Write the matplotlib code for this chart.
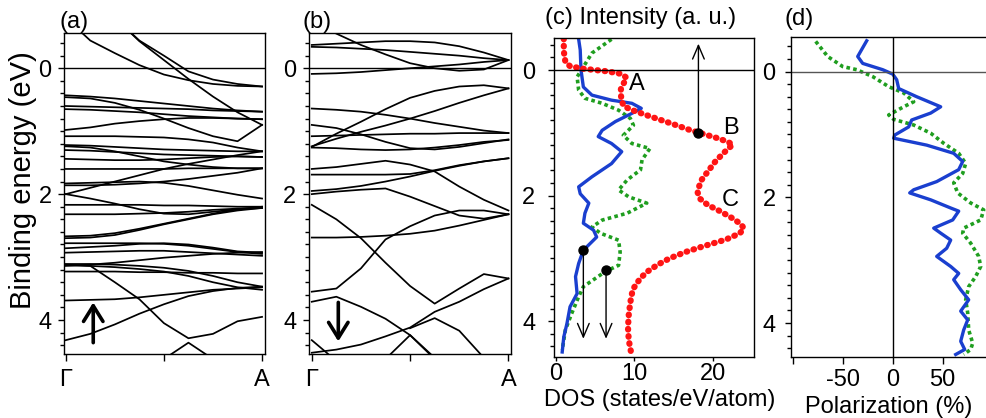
import numpy as np
import matplotlib
matplotlib.use('Agg')
import matplotlib.pyplot as plt
from matplotlib.ticker import MultipleLocator

plt.rcParams['font.family'] = ['Liberation Sans', 'DejaVu Sans']
plt.rcParams['font.size'] = 17

nan = np.nan

# k path Gamma -> A (fraction)
K = [0, 0.125, 0.25, 0.375, 0.5, 0.625, 0.75, 0.875, 1.0]

# (a) majority spin bands, binding energy (eV) at each K
bands_up = [
    [-0.80, -0.44, -0.24, -0.05, 0.10, 0.19, 0.25, 0.28, 0.29],
    [-1.40, -1.15, -0.80, -0.44, -0.20, 0.05, 0.18, 0.25, 0.29],
    [-1.50, -1.20, -0.80, -0.43, -0.13, 0.17, 0.45, 0.70, 0.90],
    [0.43, 0.45, 0.48, 0.52, 0.56, 0.60, 0.64, 0.67, 0.69],
    [0.46, 0.48, 0.55, 0.66, 0.80, 0.95, 1.08, 1.16, 0.90],
    [0.60, 0.61, 0.62, 0.63, 0.64, 0.65, 0.67, 0.68, 0.69],
    [0.65, 0.66, 0.68, 0.70, 0.73, 0.76, 0.78, 0.80, 0.81],
    [0.98, 0.94, 0.88, 0.84, 0.81, 0.79, 0.79, 0.80, 0.81],
    [1.08, 1.08, 1.08, 1.09, 1.10, 1.13, 1.18, 1.26, 1.32],
    [1.22, 1.23, 1.25, 1.27, 1.29, 1.30, 1.31, 1.32, 1.32],
    [1.24, 1.26, 1.32, 1.40, 1.48, 1.53, 1.57, 1.59, 1.59],
    [1.30, 1.31, 1.33, 1.35, 1.37, 1.38, 1.39, 1.40, 1.41],
    [1.44, 1.45, 1.46, 1.46, 1.45, 1.43, 1.41, 1.40, 1.41],
    [1.60, 1.60, 1.60, 1.60, 1.60, 1.59, 1.59, 1.59, 1.59],
    [2.00, 1.90, 1.80, 1.70, 1.60, 1.52, 1.45, 1.38, 1.32],
    [1.83, 1.82, 1.81, 1.80, 1.82, 1.87, 1.94, 2.01, 2.07],
    [1.86, 1.86, 1.85, 1.83, 1.80, 1.76, 1.71, 1.66, 1.59],
    [2.00, 2.07, 2.15, 2.24, 2.31, 2.32, 2.28, 2.24, 2.22],
    [2.17, 2.17, 2.17, 2.17, 2.18, 2.18, 2.19, 2.20, 2.20],
    [2.32, 2.32, 2.32, 2.31, 2.30, 2.28, 2.25, 2.23, 2.22],
    [2.67, 2.66, 2.62, 2.55, 2.47, 2.39, 2.31, 2.24, 2.20],
    [2.70, 2.69, 2.65, 2.57, 2.48, 2.40, 2.32, 2.26, 2.22],
    [2.78, 2.78, 2.78, 2.78, 2.79, 2.82, 2.87, 2.92, 2.95],
    [2.86, 2.84, 2.82, 2.79, 2.78, 2.80, 2.85, 2.91, 2.93],
    [2.93, 2.92, 2.91, 2.90, 2.90, 2.92, 2.94, 2.96, 2.98],
    [3.11, 3.11, 3.12, 3.14, 3.17, 3.22, 3.30, 3.40, 3.47],
    [3.13, 3.14, 3.16, 3.19, 3.23, 3.30, 3.40, 3.48, 3.52],
    [3.14, 3.12, 3.09, 3.05, 3.01, 2.98, 2.95, 2.93, 2.92],
    [3.23, 3.23, 3.23, 3.24, 3.24, 3.25, 3.25, 3.26, 3.26],
    [3.12, 3.14, 3.40, 3.67, 4.05, 4.29, 4.22, 4.02, 3.95],
    [3.69, 3.68, 3.67, 3.64, 3.60, 3.56, 3.52, 3.50, 3.48],
    [4.32, 4.22, 4.07, 3.90, 3.75, 3.62, 3.54, 3.49, 3.47],
    [nan, nan, nan, nan, 4.62, 4.36, 4.62, nan, nan],
]

# (b) minority spin bands
bands_dn = [
    [-0.37, -0.39, -0.41, -0.43, -0.43, -0.41, -0.35, -0.25, -0.13],
    [-0.34, -0.33, -0.31, -0.29, -0.26, -0.23, -0.20, -0.16, -0.13],
    [-0.75, -0.55, -0.37, -0.22, -0.08, 0.00, 0.04, 0.02, -0.13],
    [0.09, 0.08, 0.06, 0.03, 0.00, -0.03, -0.06, -0.10, -0.13],
    [0.64, 0.66, 0.69, 0.74, 0.80, 0.87, 0.93, 0.99, 1.03],
    [1.25, 1.04, 0.85, 0.65, 0.47, 0.36, 0.29, 0.27, 0.32],
    [1.24, 1.12, 1.01, 0.91, 0.80, 0.68, 0.55, 0.43, 0.32],
    [0.90, 0.95, 1.05, 1.17, 1.27, 1.29, 1.25, 1.19, 1.13],
    [1.08, 1.07, 1.06, 1.05, 1.04, 1.04, 1.03, 1.03, 1.03],
    [1.26, 1.27, 1.29, 1.30, 1.29, 1.26, 1.22, 1.17, 1.14],
    [1.60, 1.57, 1.52, 1.47, 1.53, 1.64, 1.88, 2.09, 2.26],
    [1.69, 1.69, 1.69, 1.69, 1.68, 1.62, 1.54, 1.48, 1.43],
    [1.95, 1.92, 1.87, 1.80, 1.72, 1.63, 1.55, 1.48, 1.43],
    [2.00, 1.96, 1.93, 1.91, 2.04, 2.19, 2.34, 2.39, 2.32],
    [2.17, 2.40, 2.70, 3.09, 3.46, 3.74, 3.50, 3.27, 3.34],
    [2.69, 2.69, 2.68, 2.66, 2.63, 2.58, 2.50, 2.41, 2.32],
    [3.55, 3.50, 3.18, 2.72, 2.51, 2.34, 2.26, 2.26, 2.32],
    [3.71, 3.63, 3.79, 3.98, 4.24, 4.60, nan, nan, nan],
    [4.32, 4.65, nan, nan, nan, nan, nan, nan, nan],
    [4.52, 4.47, 4.39, 4.26, 4.12, 3.87, 3.71, 3.51, 3.34],
    [nan, nan, nan, 4.62, 4.24, 4.62, nan, nan, nan],
    [nan, nan, nan, nan, 4.13, 3.97, 4.17, 4.60, nan],
]

# (c) ARPES intensity (red) and DOS (blue: majority, green: minority)
red_E = [-0.50, -0.30, -0.13, -0.06, -0.02, 0.02, 0.06, 0.12, 0.20, 0.30, 0.40, 0.50,
         0.58, 0.65, 0.72, 0.80, 0.88, 0.95, 1.01, 1.08, 1.14, 1.19, 1.25, 1.35, 1.45,
         1.55, 1.65, 1.75, 1.85, 1.95, 2.05, 2.15, 2.25, 2.35, 2.45, 2.52, 2.60, 2.70,
         2.80, 2.90, 3.00, 3.10, 3.20, 3.30, 3.40, 3.50, 3.70, 3.90, 4.10, 4.30, 4.50]
red_I = [1.0, 1.0, 1.2, 1.8, 3.5, 6.5, 8.3, 9.0, 8.7, 8.3, 8.3, 8.4,
         8.7, 10.0, 11.6, 13.5, 15.4, 17.0, 18.6, 20.5, 21.9, 22.6, 22.0, 21.2, 20.4,
         19.8, 19.2, 18.6, 18.3, 18.1, 18.4, 19.4, 21.0, 22.4, 23.6, 24.0, 23.5, 21.7,
         19.0, 16.5, 14.5, 13.0, 11.8, 10.9, 10.3, 9.8, 9.5, 9.3, 9.2, 9.3, 9.6]

dos_up_E = [-0.49, -0.32, 0.00, 0.27, 0.40, 0.48, 0.53, 0.61, 0.69, 0.82, 0.96, 1.06,
            1.17, 1.30, 1.49, 1.70, 1.86, 1.97, 2.12, 2.28, 2.44, 2.55, 2.66, 2.87,
            3.08, 3.29, 3.56, 3.77, 4.04, 4.25, 4.49]
dos_up = [2.9, 3.1, 3.2, 3.5, 4.6, 7.1, 9.7, 10.9, 9.7, 7.6, 5.9, 5.4,
          7.1, 8.4, 7.1, 4.6, 2.9, 3.1, 4.2, 3.7, 3.5, 4.8, 5.2, 3.5,
          2.9, 2.5, 2.7, 1.8, 1.4, 1.0, 0.8]

dos_dn_E = [-0.49, -0.27, -0.05, 0.11, 0.32, 0.45, 0.53, 0.64, 0.77, 0.88, 1.04, 1.17,
            1.25, 1.43, 1.59, 1.75, 1.91, 2.02, 2.12, 2.28, 2.39, 2.50, 2.60, 2.71,
            2.90, 3.11, 3.21, 3.45, 3.61, 3.88, 4.14, 4.46]
dos_dn = [7.1, 4.6, 3.5, 2.7, 2.9, 3.7, 5.9, 8.0, 9.5, 9.9, 8.6, 9.7,
          12.0, 11.0, 10.8, 9.1, 8.0, 9.3, 11.6, 9.1, 5.9, 4.6, 5.7, 8.0,
          8.2, 8.0, 6.3, 3.5, 2.9, 2.0, 1.2, 0.8]

# (d) spin polarization (%)
pol_up_E = [-0.49, -0.24, -0.13, -0.03, 0.04, 0.13, 0.27, 0.40, 0.56, 0.66, 0.77, 0.88,
            1.01, 1.06, 1.17, 1.30, 1.43, 1.56, 1.75, 1.88, 1.93, 2.04, 2.17, 2.22,
            2.36, 2.49, 2.57, 2.68, 2.81, 2.94, 3.10, 3.21, 3.31, 3.47, 3.63, 3.81,
            3.95, 4.11, 4.29, 4.42, 4.50]
pol_up = [-26, -35, -30, -10, 0, 4, 6, 24, 48, 38, 19, 16,
          2, 1, 34, 61, 70, 66, 44, 21, 17, 38, 58, 66,
          60, 41, 48, 58, 54, 44, 58, 66, 61, 68, 76, 68,
          75, 71, 68, 72, 63]

pol_dn_E = [-0.48, -0.24, -0.08, -0.03, 0.08, 0.24, 0.34, 0.48, 0.56, 0.69, 0.76, 0.85,
            0.98, 1.14, 1.30, 1.46, 1.62, 1.77, 1.93, 2.09, 2.20, 2.36, 2.49, 2.57,
            2.73, 2.94, 3.10, 3.26, 3.42, 3.63, 3.84, 4.11, 4.32, 4.42, 4.50]
pol_dn = [-77, -65, -50, -36, -20, -4, 11, 21, 11, -4, 1, 21,
          38, 51, 66, 73, 70, 61, 65, 78, 91, 88, 71, 70,
          78, 86, 88, 83, 76, 73, 75, 76, 80, 78, 71]

W, H = 987, 418
fig = plt.figure(figsize=(W / 100, H / 100), dpi=100)


def box(x0, y0, x1, y1):
    return [x0 / W, 1 - y1 / H, (x1 - x0) / W, (y1 - y0) / H]


ax_a = fig.add_axes(box(64, 33, 265, 354))
ax_b = fig.add_axes(box(309, 33, 511, 354))
ax_c = fig.add_axes(box(554, 38, 754, 357))
ax_d = fig.add_axes(box(791, 37, 987, 357))


def energy_axis(ax, top, bottom, pad):
    ax.set_ylim(bottom, top)
    ax.yaxis.set_major_locator(MultipleLocator(2))
    ax.yaxis.set_minor_locator(MultipleLocator(0.2))
    ax.tick_params(axis='y', which='major', direction='out', length=4, width=1, pad=pad)
    ax.tick_params(axis='y', which='minor', direction='out', length=3, width=1)
    for s in ax.spines.values():
        s.set_linewidth(1)


def band_panel(ax, bands, x_lim, arrow_from, arrow_to):
    for e in bands:
        ax.plot(K, e, color='black', lw=1.25)
    ax.axhline(0, color='black', lw=1)
    ax.set_xlim(*x_lim)
    ax.set_xticks([0, 0.5, 1])
    ax.set_xticklabels(['\u0393', '', 'A'])
    ax.tick_params(axis='x', direction='out', length=5, width=1, pad=6)
    energy_axis(ax, -0.56, 4.54, 5)
    ax.annotate('', xy=arrow_to, xytext=arrow_from,
                arrowprops=dict(arrowstyle='->,head_length=0.45,head_width=0.28',
                                lw=2.6, color='black', shrinkA=0, shrinkB=0,
                                mutation_scale=25))


band_panel(ax_a, bands_up, (-0.009, 1.015), (0.14, 4.36), (0.14, 3.72))
band_panel(ax_b, bands_dn, (-0.014, 1.013), (0.135, 3.72), (0.135, 4.34))

# (c)
ax_c.plot(dos_dn, dos_dn_E, color='#1f9e1f', lw=2.6, linestyle=(0, (1, 0.9)))
ax_c.plot(dos_up, dos_up_E, color='#1a3fcf', lw=2.4)
ax_c.plot(red_I, red_E, color='#ff1414', lw=4.5, linestyle=(0, (0.1, 1.05)),
          dash_capstyle='round')
ax_c.axhline(0, color='black', lw=1)
ax_c.set_xlim(-0.25, 25.3)
ax_c.set_xticks([0, 10, 20])
ax_c.tick_params(axis='x', direction='out', length=3, width=1, pad=1)
energy_axis(ax_c, -0.51, 4.57, 9.5)

marks = [(18.2, 1.01, -0.42), (3.5, 2.86, 4.28), (6.4, 3.19, 4.28)]
for xm, ym, yend in marks:
    ax_c.plot([xm], [ym], 'o', color='black', ms=6.5, zorder=5)
    ax_c.annotate('', xy=(xm, yend), xytext=(xm, ym),
                  arrowprops=dict(arrowstyle='->,head_length=0.7,head_width=0.3',
                                  lw=1, color='black', shrinkA=0, shrinkB=0,
                                  mutation_scale=14))
for lab, xl, yl in [('A', 10.3, 0.22), ('B', 22.3, 0.92), ('C', 22.3, 2.07)]:
    ax_c.text(xl, yl, lab, ha='center', va='center')
ax_c.set_xlabel('DOS (states/eV/atom)', labelpad=4)
ax_c.xaxis.set_label_coords(0.53, -0.1)
ax_c.xaxis.label.set_va('top')

# (d)
ax_d.plot(pol_dn, pol_dn_E, color='#1f9e1f', lw=2.6, linestyle=(0, (1, 0.9)))
ax_d.plot(pol_up, pol_up_E, color='#1a3fcf', lw=2.4)
ax_d.axhline(0, color='#555555', lw=1)
ax_d.axvline(0, color='black', lw=1)
ax_d.set_xlim(-101.7, 94.3)
ax_d.set_xticks([-100, -50, 0, 50])
ax_d.set_xticklabels(['', '-50', '0', '50'])
ax_d.tick_params(axis='x', direction='out', length=5, width=1, pad=4)
ax_d.spines['right'].set_visible(False)
energy_axis(ax_d, -0.55, 4.54, 7)
ax_d.set_xlabel('Polarization (%)', labelpad=3)

fig.text(23 / W, 1 - 180 / H, 'Binding energy (eV)', rotation=90,
         ha='center', va='center', fontsize=21)
fig.text(60 / W, 1 - 22 / H, '(a)', ha='left', va='center')
fig.text(303 / W, 1 - 22 / H, '(b)', ha='left', va='center')
fig.text(545 / W, 1 - 18 / H, '(c) Intensity (a. u.)', ha='left', va='center')
fig.text(785 / W, 1 - 19 / H, '(d)', ha='left', va='center')

fig.savefig('out.png', dpi=100)
